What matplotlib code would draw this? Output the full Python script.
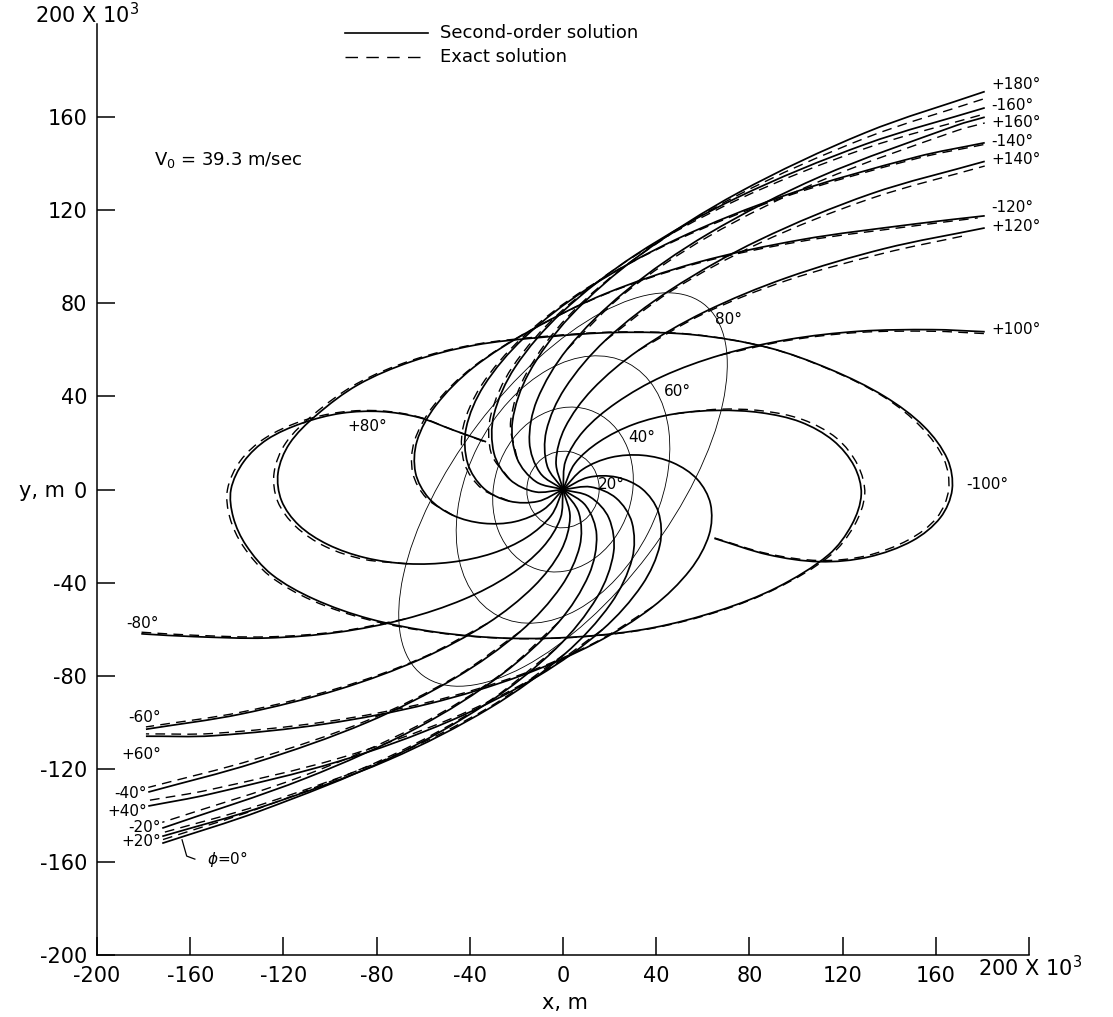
import numpy as np
import matplotlib
matplotlib.use('Agg')
import matplotlib.pyplot as plt
from matplotlib.path import Path
from matplotlib.patches import PathPatch, Ellipse
from matplotlib.lines import Line2D

# trajectories, x and y in 10^3 m, second-order solution (solid)
sol_0 = [(0, 0), (11.5, -3.1), (19.7, -12.3), (21.7, -27.0), (14.8, -46.0), (-2.9, -68.2),
         (-32.8, -92.0), (-75.2, -115.8), (-129.7, -138.0), (-172, -152)]
sol_p20 = [(0, 0), (11.9, 1.1), (22.8, -3.7), (29.6, -14.2), (29.7, -29.6), (20.6, -48.9),
           (0.7, -70.7), (-31.1, -93.7), (-74.7, -116.1), (-129.6, -136.5), (-172, -149)]
sol_p40 = [(0, 0), (10.8, 5.2), (23.0, 5.3), (33.9, 0.3), (40.9, -9.6), (41.6, -23.7),
           (34.0, -40.9), (16.9, -60.2), (-10.6, -80.1), (-48.4, -99.4), (-95.9, -116.7),
           (-151.7, -130.9), (-178, -136)]
sol_p60 = [(0, 0), (8.5, 8.7), (20.6, 13.8), (34.2, 14.7), (47.2, 11.5), (57.6, 4.4),
           (63.3, -6.2), (62.7, -19.4), (54.6, -34.5), (38.5, -50.4), (14.0, -65.9),
           (-18.3, -80.1), (-57.4, -92.0), (-102.0, -100.7), (-150.2, -105.8), (-179, -106)]
sol_m20 = [(0, 0), (9.8, -7.0), (14.4, -19.5), (11.2, -36.4), (-1.8, -56.9), (-26.1, -79.3),
           (-62.2, -102.2), (-110.3, -124.0), (-172, -145.5)]
sol_m40 = [(0, 0), (6.8, -10.1), (7.2, -24.2), (-0.7, -41.5), (-18.2, -60.9), (-46.0, -80.8),
           (-84.2, -100.1), (-132.0, -117.3), (-178, -130)]
sol_m60 = [(0, 0), (3.0, -11.9), (-0.8, -26.1), (-12.5, -41.6), (-32.4, -57.5), (-60.5, -72.6),
           (-96.0, -85.8), (-137.9, -96.4), (-179, -103)]
sol_m80 = [(0, 0), (-1.1, -12.3), (-8.7, -24.8), (-22.8, -36.7), (-42.7, -47.2), (-67.7, -55.6),
           (-96.3, -61.3), (-127.1, -63.8), (-158.4, -63.2), (-181, -62)]
sol_p180 = [(0, 0), (-11.5, 3.3), (-19.7, 13.3), (-21.7, 29.2), (-14.8, 49.8), (2.9, 74.2),
            (32.8, 100.6), (75.2, 127.5), (129.7, 153.3), (181, 171)]
sol_m160 = [(0, 0), (-11.9, -1.0), (-22.8, 4.3), (-29.6, 15.5), (-29.7, 31.9), (-20.6, 52.5),
            (-0.7, 75.9), (31.1, 100.8), (74.7, 125.4), (129.6, 148.3), (181, 164)]
sol_p160 = [(0, 0), (-9.8, 7.1), (-14.4, 20.4), (-11.2, 38.3), (1.8, 60.3), (26.1, 84.6),
            (62.2, 109.8), (110.3, 134.4), (169, 156.5), (181, 160)]
sol_m140 = [(0, 0), (-10.8, -5.1), (-23.0, -5.0), (-33.9, 0.4), (-40.9, 11.2), (-41.6, 26.2),
            (-34.0, 44.5), (-16.9, 65.0), (10.6, 86.4), (48.4, 107.4), (95.9, 126.6),
            (151.7, 142.9), (181, 149)]
sol_p140 = [(0, 0), (-6.8, 10.2), (-7.2, 25.0), (0.7, 43.3), (18.2, 64.1), (46.0, 85.7),
            (84.2, 107.2), (132.0, 127.0), (181, 141)]
sol_m120 = [(0, 0), (-8.5, -8.7), (-20.6, -13.8), (-34.2, -14.5), (-47.2, -11.1), (-57.6, -3.7),
            (-63.3, 7.2), (-62.7, 20.7), (-54.6, 36.1), (-38.5, 52.4), (-14.0, 68.3),
            (18.3, 84.2), (57.4, 97.5), (102.0, 107.3), (150.2, 114.0), (181, 117.6)]
sol_p120 = [(0, 0), (-3.0, 11.9), (0.8, 26.5), (12.5, 42.9), (32.4, 59.8), (60.5, 76.2),
            (96.0, 91.0), (137.9, 103.5), (181, 112.4)]
sol_p100 = [(0, 0), (1.1, 12.3), (8.7, 25.0), (22.8, 37.2), (42.7, 48.6), (67.7, 57.8),
            (96.3, 64.4), (127.1, 68.0), (158.4, 68.7), (181, 67.8)]
sol_p80 = [(0, 0), (5.1, 11.2), (15.5, 20.5), (30.3, 28.0), (47.9, 32.5), (66.7, 34.0),
           (85.0, 33.0), (102, 29.0), (116, 21), (125, 10), (128, -2), (124, -15), (114, -28),
           (92, -42), (67, -52), (38, -59.5), (7.9, -63.2), (-23.4, -63.9), (-54.2, -61.3),
           (-82.9, -55.6), (-107, -47), (-125, -36.5), (-136, -24), (-141.5, -12), (-142.5, 0),
           (-137, 12), (-127, 21.5), (-112, 28.5), (-95, 32.8), (-78, 33.5), (-62, 31),
           (-47, 25.5), (-33, 20.5)]
sol_m100 = [(0, 0), (-5.1, -11.2), (-15.5, -20.5), (-30.3, -27.4), (-47.9, -31.2),
            (-66.7, -31.9), (-84.9, -29.3), (-101, -23.6), (-113.4, -15.3), (-120.8, -4.8),
            (-122.3, 7.2), (-117.4, 19.7), (-105.9, 31.9), (-88, 45), (-65, 55), (-38, 62),
            (-7.9, 65.5), (23.4, 67.5), (56, 66.5), (88, 61), (115, 51.5), (138, 40),
            (155, 27), (165, 13), (167, 0), (162, -12), (150, -22), (131, -29), (110, -31),
            (88, -28), (65, -21)]

# exact solution (dashed), where it separates from the solid curve
exact_0 = [(-2.9, -68.2), (-32.8, -91.6), (-75.2, -115.0), (-129.7, -136.7), (-172, -150.5)]
exact_p20 = [(0.7, -70.7), (-31.1, -93.2), (-74.7, -115.3), (-129.6, -135.4), (-172, -147.5)]
exact_p40 = [(16.9, -60.2), (-10.6, -79.7), (-48.4, -98.6), (-95.9, -115.4), (-151.7, -129.0),
             (-178, -133.6)]
exact_p60 = [(38.5, -50.4), (14.0, -65.6), (-18.3, -79.6), (-57.4, -91.3), (-102, -99.8),
             (-150.2, -104.8), (-179, -105)]
exact_m20 = [(-1.8, -56.9), (-26.1, -79.0), (-62.2, -101.4), (-110.3, -122.6), (-172, -143)]
exact_m40 = [(-18.2, -60.9), (-46, -80.4), (-84.2, -99.3), (-132, -115.8), (-178, -128)]
exact_m60 = [(-32.4, -57.5), (-60.5, -72.3), (-96, -85.2), (-137.9, -95.6), (-179, -102)]
exact_m80 = [(-67.7, -55.6), (-96.3, -61.0), (-127.1, -63.3), (-158.4, -62.6), (-181, -61.3)]
exact_p180 = [(-19.7, 13.3), (-22.5, 29.2), (-15.8, 49.8), (2.0, 74.2), (32.0, 100.0),
              (74.5, 126.2), (129.7, 151.0), (181, 168)]
exact_m160 = [(-22.8, 4.3), (-30.8, 15.5), (-31.0, 31.9), (-21.8, 52.5), (-1.5, 75.9),
              (30.5, 100.2), (74.5, 124.3), (129.6, 146.5), (181, 161.4)]
exact_p160 = [(1.8, 60.3), (26.1, 84.0), (62.2, 108.6), (110.3, 132.5), (169, 154.2),
              (181, 157.5)]
exact_m140 = [(-23.0, -5.0), (-34.9, 0.4), (-42.3, 11.2), (-43.0, 26.2), (-35.2, 44.5),
              (-17.8, 65.0), (10.0, 86.4), (48.4, 107.0), (95.9, 126.0), (151.7, 142.2),
              (181, 148.3)]
exact_p140 = [(18.2, 64.1), (46.0, 85.0), (84.2, 105.8), (132.0, 125.0), (181, 139)]
exact_m120 = [(-47.2, -11.1), (-58.6, -3.7), (-64.5, 7.2), (-63.8, 20.7), (-55.5, 36.1),
              (-39.0, 52.4), (-14.2, 68.3), (18.3, 84.0), (57.4, 97.1), (102.0, 106.6),
              (150.2, 113.2), (178, 116.7)]
exact_p120 = [(32.4, 59.8), (60.5, 75.6), (96.0, 89.8), (137.9, 101.6), (172, 109)]
exact_p100 = [(67.7, 57.8), (96.3, 64.0), (127.1, 67.5), (158.4, 68.0), (181, 67)]
exact_p80 = [(47.9, 32.5), (66.7, 34.5), (85.5, 33.8), (103, 30), (117.5, 22), (126.5, 10.5),
             (129.5, -2), (125, -15.5), (114.5, -28.5), (92, -42.3), (67, -52.3), (38, -59.7),
             (7.9, -63.3), (-23.4, -64), (-54.2, -61.5), (-83.3, -56), (-107.8, -47.6),
             (-126, -37), (-137.3, -24.3), (-143, -12), (-144, 0), (-138.5, 12.3), (-128, 22),
             (-112.5, 29.3), (-95, 33.3), (-78, 33.8), (-62, 31.2), (-47, 25.5), (-33, 20.3)]
exact_m100 = [(-66.7, -31.9), (-85.5, -30), (-102, -24.5), (-114.8, -15.8), (-122.5, -5),
              (-124, 7.2), (-119, 20), (-107, 32.3), (-88.5, 45.5), (-65, 55.5), (-38, 62.3),
              (-7.9, 65.8), (23.4, 67.7), (56, 66.6), (88, 61), (115, 51.3), (138, 39.6),
              (154, 26.5), (163.5, 13), (165.5, 0), (160.5, -12), (148.5, -21.5), (130, -28.5),
              (110, -30.5), (88, -27.6), (65, -20.8)]

# constant-time curves (orbit angle), ellipses about the origin
time_labels = ['20°', '40°', '60°', '80°']
time_semi_major = [16.5, 36, 61, 100]
time_semi_minor = [15.5, 29.5, 41, 46]
time_tilt = [80, 72, 63, 53]

solid_curves = [sol_0, sol_p20, sol_p40, sol_p60, sol_m20, sol_m40, sol_m60, sol_m80,
                sol_p180, sol_m160, sol_p160, sol_m140, sol_p140, sol_m120, sol_p120,
                sol_p100, sol_p80, sol_m100]
exact_curves = [exact_0, exact_p20, exact_p40, exact_p60, exact_m20, exact_m40, exact_m60,
                exact_m80, exact_p180, exact_m160, exact_p160, exact_m140, exact_p140,
                exact_m120, exact_p120, exact_p100, exact_p80, exact_m100]

DASH = (0, (7, 4.5))


def smooth(pts):
    # cubic bezier through the read points (chord-length catmull-rom tangents)
    p = np.asarray(pts, float)
    verts = [p[0]]
    codes = [Path.MOVETO]
    n = len(p)
    for i in range(n - 1):
        p0 = p[i - 1] if i > 0 else p[i]
        p1, p2 = p[i], p[i + 1]
        p3 = p[i + 2] if i + 2 < n else p[i + 1]
        d01 = np.hypot(*(p1 - p0))
        d12 = np.hypot(*(p2 - p1))
        d23 = np.hypot(*(p3 - p2))
        c1 = p1 + (p2 - p0) * d12 / (3 * (d01 + d12))
        c2 = p2 - (p3 - p1) * d12 / (3 * (d12 + d23))
        verts += [c1, c2, p2]
        codes += [Path.CURVE4] * 3
    return Path(verts, codes)


fig = plt.figure(figsize=(11.13, 10.17), dpi=100)
ax = fig.add_axes([0.08715, 0.06096, 0.8374, 0.9154])
ax.set_xlim(-200, 200)
ax.set_ylim(-200, 200)
for s in ['top', 'right']:
    ax.spines[s].set_visible(False)
for s in ['left', 'bottom']:
    ax.spines[s].set_linewidth(1.1)

ticks = [-200, -160, -120, -80, -40, 0, 40, 80, 120, 160, 200]
labels = ['-200', '-160', '-120', '-80', '-40', '0', '40', '80', '120', '160', '']
ax.set_xticks(ticks)
ax.set_xticklabels(labels)
ax.set_yticks(ticks[:-1])
ax.set_yticklabels(labels[:-1])
ax.tick_params(direction='in', length=13, width=1.1, labelsize=15)
ax.tick_params(axis='x', pad=8)
ax.tick_params(axis='y', pad=7)

for c in solid_curves:
    ax.add_patch(PathPatch(smooth(c), fill=False, lw=1.25, color='black'))
for c in exact_curves:
    ax.add_patch(PathPatch(smooth(c), fill=False, lw=1.0, color='black', linestyle=DASH))

for a, b, t in zip(time_semi_major, time_semi_minor, time_tilt):
    ax.add_patch(Ellipse((0, 0), 2 * a, 2 * b, angle=t, fill=False, lw=0.6, color='black'))

lab = dict(fontsize=11, va='center')
ax.text(20.6, 2.1, time_labels[0], ha='center', **lab)
ax.text(33.9, 22.3, time_labels[1], ha='center', **lab)
ax.text(48.9, 42.1, time_labels[2], ha='center', **lab)
ax.text(71.2, 73.0, time_labels[3], ha='center', **lab)

right_labels = ['+180°', '-160°', '+160°', '-140°', '+140°', '-120°', '+120°', '+100°']
right_y = [174, 165.2, 157.5, 149.4, 141.6, 121, 112.9, 68.7]
for t, y in zip(right_labels, right_y):
    ax.text(184, y, t, ha='left', clip_on=False, **lab)
ax.text(173, 2.1, '-100°', ha='left', clip_on=False, **lab)
ax.text(-84, 27, '+80°', ha='center', **lab)

left_labels = ['-80°', '-60°', '+60°', '-40°', '+40°', '-20°', '+20°']
left_y = [-57.5, -97.9, -113.7, -130.5, -138.2, -145.1, -151.1]
left_x = [-173.4, -172.5, -172.5, -178.5, -178.5, -172.5, -172.5]
for t, x, y in zip(left_labels, left_x, left_y):
    ax.text(x, y, t, ha='right', **lab)
ax.text(-152.8, -158.8, r'$\phi$=0°', ha='left', **lab)
ax.plot([-163.5, -161.5, -158], [-150.5, -157.5, -158.8], color='black', lw=0.9)

ax.text(-175.5, 141.6, r'V$_0$ = 39.3 m/sec', fontsize=13, ha='left', va='center')

# corner labels and axis titles
fig.text(87 / 1113, 1 - 15 / 1017, r'200 X 10$^3$', fontsize=15, ha='center', va='center')
fig.text(978 / 1113, 1 - 968 / 1017, r'200 X 10$^3$', fontsize=15, ha='left', va='center')
fig.text(42 / 1113, 1 - 491 / 1017, 'y, m', fontsize=15, ha='center', va='center')
fig.text(565 / 1113, 1 - 1003 / 1017, 'x, m', fontsize=15, ha='center', va='center')

# legend
fig.add_artist(Line2D([345 / 1113, 428 / 1113], [1 - 33 / 1017] * 2, color='black', lw=1.2))
fig.add_artist(Line2D([345 / 1113, 428 / 1113], [1 - 57 / 1017] * 2, color='black', lw=1.0,
                      linestyle=(0, (9, 6))))
fig.text(440 / 1113, 1 - 33 / 1017, 'Second-order solution', fontsize=13, va='center')
fig.text(440 / 1113, 1 - 57 / 1017, 'Exact solution', fontsize=13, va='center')

fig.savefig('out.png', dpi=100)
